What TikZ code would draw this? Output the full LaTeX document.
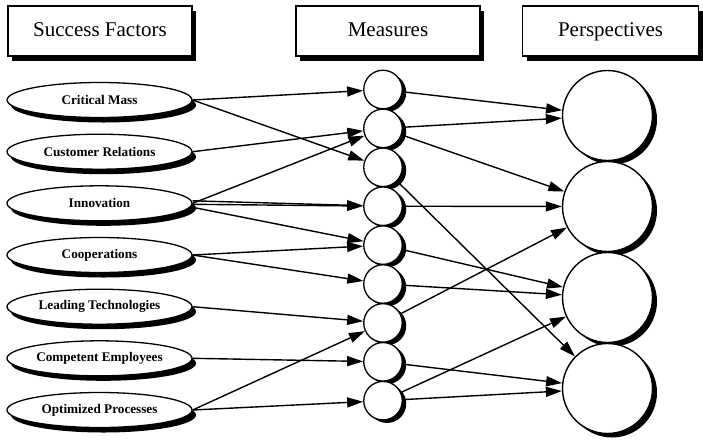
\documentclass[tikz,border=0pt]{standalone}
\usepackage{fontspec}
\setmainfont{Liberation Serif}
\usetikzlibrary{shapes.geometric,shadows,arrows.meta}
\begin{document}
\begin{tikzpicture}[x=1pt,y=-1pt,
  hdr/.style={draw,line width=1.4pt,fill=white,minimum width=184pt,minimum height=50pt,inner sep=0pt,
    text height=14.5pt,text depth=4.5pt,
    font=\fontsize{21}{24}\selectfont,
    drop shadow={shadow xshift=4pt,shadow yshift=-4.5pt,fill=black,opacity=1}},
  factor/.style={ellipse,draw,line width=1.3pt,fill=white,minimum width=185pt,minimum height=35pt,inner sep=0pt,
    font=\fontsize{13.2}{15}\selectfont\bfseries,
    drop shadow={shadow xshift=4pt,shadow yshift=-5pt,fill=black,opacity=1}},
  meas/.style={circle,draw,line width=1.3pt,fill=white,minimum size=38.5pt,inner sep=0pt,
    drop shadow={shadow xshift=4pt,shadow yshift=-3pt,fill=black,opacity=1}},
  persp/.style={circle,draw,line width=1.4pt,fill=white,minimum size=90pt,inner sep=0pt,
    drop shadow={shadow xshift=4.5pt,shadow yshift=-4pt,fill=black,opacity=1}},
  arr/.style={line width=1.4pt,-{Triangle[length=16pt,width=10pt]}}
]
\useasboundingbox (0,0) rectangle (703,440);

\node[hdr] (hsf) at (100,31) {Success Factors};
\node[hdr] (hme) at (388,31) {Measures};
\node[hdr,minimum width=176pt] (hpe) at (610.5,31) {Perspectives};

\node[factor] (e1) at (99.5,100) {Critical Mass};
\node[factor] (e2) at (99.5,151.7) {Customer Relations};
\node[factor] (e3) at (99.5,203.3) {Innovation};
\node[factor] (e4) at (99.5,255) {Cooperations};
\node[factor] (e5) at (99.5,306.7) {Leading Technologies};
\node[factor] (e6) at (99.5,358.3) {Competent Employees};
\node[factor] (e7) at (99.5,410) {Optimized Processes};

\node[meas] (c1) at (383,89.5) {};
\node[meas] (c2) at (383,128.4) {};
\node[meas] (c3) at (383,167.3) {};
\node[meas] (c4) at (383,206.2) {};
\node[meas] (c5) at (383,245.1) {};
\node[meas] (c6) at (383,284) {};
\node[meas] (c7) at (383,322.9) {};
\node[meas] (c8) at (383,361.8) {};
\node[meas] (c9) at (383,400.7) {};

\node[persp] (b1) at (607.5,115.5) {};
\node[persp] (b2) at (607.5,206.5) {};
\node[persp] (b3) at (607.5,297.5) {};
\node[persp] (b4) at (607.5,388.5) {};

% success factors -> measures
\draw[arr] (e1.east) -- (c1);
\draw[arr] (e1.east) -- (c3);
\draw[arr] (e2.east) -- (c2);
\draw[arr] (e3.east) -- (c2);
\draw[arr] ([yshift=2.5pt]e3.east) -- (c4);
\draw[arr] ([yshift=-1pt]e3.east) -- (c4);
\draw[arr] ([yshift=-4pt]e3.east) -- (c5);
\draw[arr] (e4.east) -- (c5);
\draw[arr] (e4.east) -- (c6);
\draw[arr] (e5.east) -- (c7);
\draw[arr] (e6.east) -- (c8);
\draw[arr] (e7.east) -- (c7);
\draw[arr] (e7.east) -- (c9);

% measures -> perspectives
\draw[arr] (c1) -- (b1);
\draw[arr] (c2) -- (b1);
\draw[arr] (c2) -- (b2);
\draw[arr] (c3) -- (b4);
\draw[arr] (c4) -- (b2);
\draw[arr] (c5) -- (b3);
\draw[arr] (c6) -- (b3);
\draw[arr] (c7) -- (b2);
\draw[arr] (c8) -- (b4);
\draw[arr] (c9) -- (b3);
\draw[arr] (c9) -- (b4);
\end{tikzpicture}
\end{document}
